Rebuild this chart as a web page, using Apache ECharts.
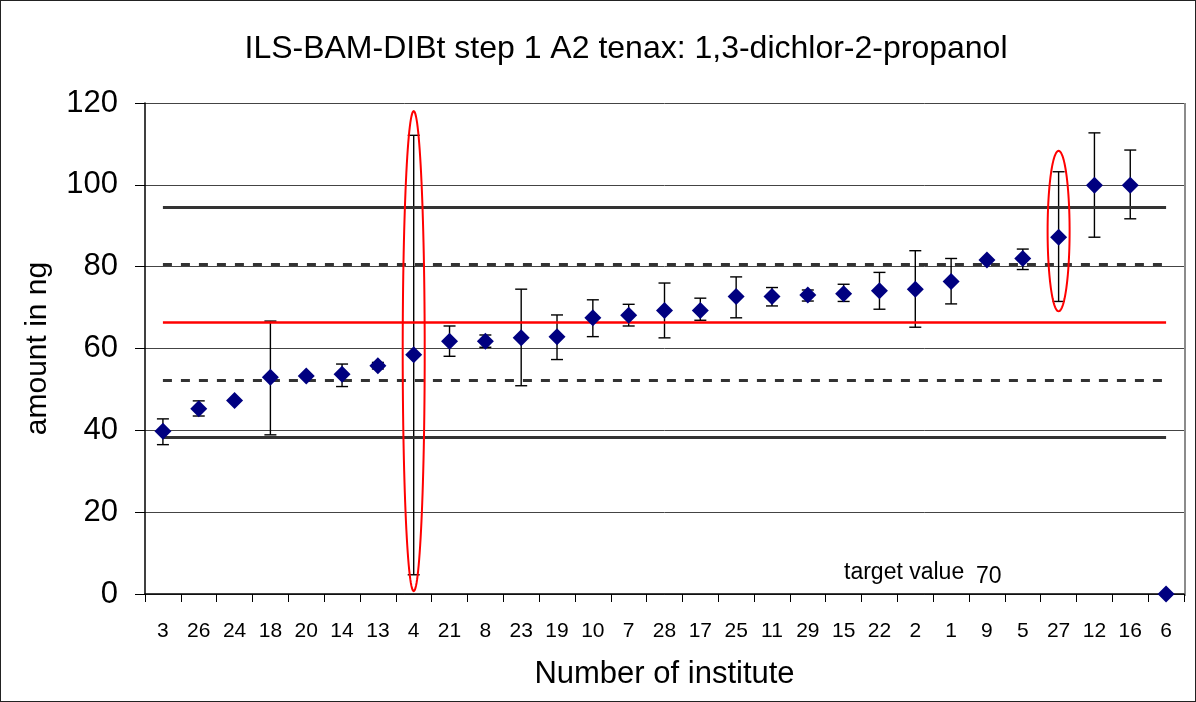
<!DOCTYPE html>
<html><head><meta charset="utf-8">
<script src="https://cdn.jsdelivr.net/npm/echarts@6/dist/echarts.min.js"></script>
<style>
html,body{margin:0;padding:0;background:#fff;}
#c{width:1196px;height:702px;box-sizing:border-box;border:1px solid #222;}
</style></head>
<body><div id="c"></div>
<script>
const institutes = ['3','26','24','18','20','14','13','4','21','8','23','19','10','7','28','17','25','11','29','15','22','2','1','9','5','27','12','16','6'];
const amounts    = [39.8,45.3,47.3,53.0,53.3,53.7,55.8,58.5,61.8,61.8,62.6,62.9,67.5,68.1,69.3,69.3,72.7,72.7,73.1,73.4,74.1,74.5,76.4,81.6,82.0,87.2,99.9,99.9,0];
const errLow     = [36.5,43.5,null,38.9,null,50.7,55.0,4.7,58.1,60.3,50.9,57.3,62.9,65.5,62.6,66.9,67.5,70.4,71.6,71.5,69.6,65.2,70.9,null,79.3,71.5,87.2,91.7,null];
const errHigh    = [42.8,47.2,null,66.7,null,56.2,56.6,112.1,65.5,63.3,74.5,68.2,71.9,70.8,76.0,72.3,77.5,74.9,74.3,75.7,78.6,83.9,82.0,null,84.3,103.2,112.7,108.5,null];
const solidLines  = [94.4, 38.4];
const dottedLines = [80.5, 52.3];
const meanLine    = 66.4;
const ellipseCats   = ['4','27'];
const ellipseTop    = [118.0,108.3];
const ellipseBottom = [0.7,69.1];
const yTicks = [0,20,40,60,80,100,120];

const chart = echarts.init(document.getElementById('c'));
const F = '"Liberation Sans", Arial, sans-serif';
const last = institutes.length - 1;
const mlData = [];
solidLines.forEach(v=>mlData.push([{coord:[0,v],lineStyle:{color:'#333',width:3,type:'solid'}},{coord:[last,v]}]));
dottedLines.forEach(v=>mlData.push([{coord:[0,v],lineStyle:{color:'#333',width:3,type:[9,9]}},{coord:[last,v]}]));
mlData.push([{coord:[0,meanLine],lineStyle:{color:'#ff0000',width:2.5,type:'solid'}},{coord:[last,meanLine]}]);

const errData = institutes.map((c,i)=> errLow[i]==null ? null : [i, errLow[i], errHigh[i]]).filter(d=>d);
const ellData = ellipseCats.map((c,i)=>[institutes.indexOf(c), ellipseTop[i], ellipseBottom[i]]);

chart.setOption({
  animation:false,
  backgroundColor:'#fff',
  title:{text:'ILS-BAM-DIBt step 1 A2 tenax: 1,3-dichlor-2-propanol',left:620,top:27,textAlign:'center',
    textStyle:{fontFamily:F,fontSize:32,fontWeight:'normal',color:'#000'}},
  grid:{left:144,right:11,top:102,bottom:107,containLabel:false,outerBoundsMode:'none'},
  xAxis:{type:'category',data:institutes,boundaryGap:true,
    name:'Number of institute',nameLocation:'middle',nameGap:65,
    nameTextStyle:{fontFamily:F,fontSize:31,color:'#000'},
    axisLine:{lineStyle:{color:'#000',width:1.5}},
    axisTick:{show:true,length:8,lineStyle:{color:'#000'}},
    axisLabel:{fontFamily:F,fontSize:21,color:'#000',margin:27,interval:0},
    splitLine:{show:false}},
  yAxis:{type:'value',min:0,max:120,interval:20,
    name:'amount in ng',nameLocation:'middle',nameGap:92,nameRotate:90,
    nameTextStyle:{fontFamily:F,fontSize:30,color:'#000'},
    axisLine:{show:true,lineStyle:{color:'#000',width:1.5}},
    axisTick:{show:true,length:10,lineStyle:{color:'#000'}},
    axisLabel:{fontFamily:F,fontSize:31,color:'#000',margin:27},
    splitLine:{show:true,lineStyle:{color:'#444',width:1}}},
  graphic:[
    {type:'rect',shape:{x:1184,y:102,width:0,height:493},style:{stroke:'#666',lineWidth:1.5,fill:null}},
    {type:'text',x:843,y:560,style:{text:'target value',font:'23px "Liberation Sans", Arial',fill:'#000'}},
    {type:'text',x:975,y:564,style:{text:'70',font:'23px "Liberation Sans", Arial',fill:'#000'}}
  ],
  series:[
    {type:'custom',name:'err',data:errData,z:3,
     renderItem:function(params,api){
       const i=api.value(0);
       const lo=api.coord([i,api.value(1)]), hi=api.coord([i,api.value(2)]);
       const w=6, st={stroke:'#000',lineWidth:1.4};
       return {type:'group',children:[
         {type:'line',shape:{x1:lo[0],y1:lo[1],x2:hi[0],y2:hi[1]},style:st},
         {type:'line',shape:{x1:lo[0]-w,y1:lo[1],x2:lo[0]+w,y2:lo[1]},style:st},
         {type:'line',shape:{x1:hi[0]-w,y1:hi[1],x2:hi[0]+w,y2:hi[1]},style:st}
       ]};
     }},
    {type:'scatter',name:'amount',data:amounts,symbol:'diamond',symbolSize:[17,17],z:5,
     itemStyle:{color:'#000080',opacity:1},
     markLine:{silent:true,symbol:'none',label:{show:false},animation:false,data:mlData}},
    {type:'custom',name:'ellipse',data:ellData,z:6,
     renderItem:function(params,api){
       const i=api.value(0);
       const t=api.coord([i,api.value(1)]), b=api.coord([i,api.value(2)]);
       const cx=t[0], cy=(t[1]+b[1])/2, ry=(b[1]-t[1])/2, rx=11;
       const pts=[];
       for(let k=0;k<=120;k++){const a=k/120*Math.PI*2;pts.push([cx+rx*Math.cos(a),cy+ry*Math.sin(a)]);}
       return {type:'polygon',shape:{points:pts},style:{stroke:'#ff0000',lineWidth:2,fill:null}};
     }}
  ]
});
</script></body></html>
